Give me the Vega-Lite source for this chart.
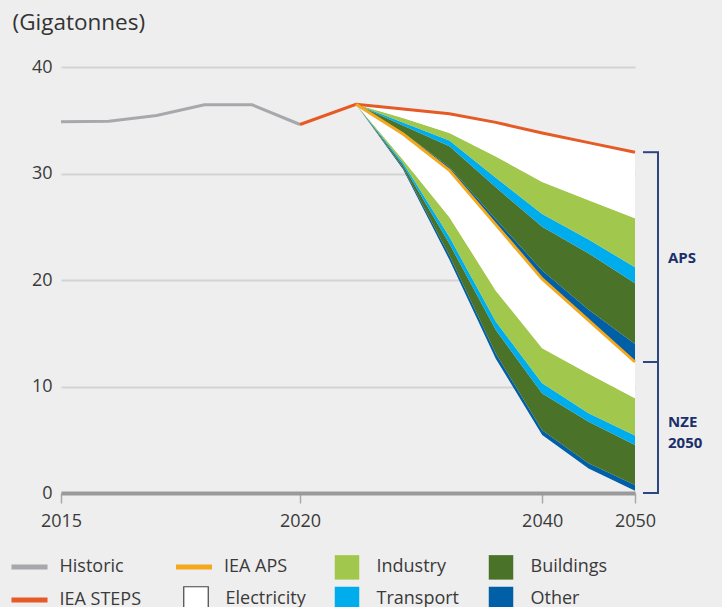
{
  "$schema": "https://vega.github.io/schema/vega-lite/v6.json",
  "width": 574,
  "height": 426,
  "autosize": {"type": "none"},
  "padding": {"left": 61, "top": 67, "right": 87, "bottom": 114},
  "background": "#eeeeee",
  "config": {
    "view": {"stroke": null},
    "font": "Open Sans",
    "axis": {"labelFont": "Open Sans", "titleFont": "Open Sans", "labelColor": "#3a3a3a", "titleColor": "#3a3a3a"},
    "legend": {"labelFont": "Open Sans"}
  },
  "datasets": {
    "bands": [
      {"year": 2022, "scen": "NZE", "series": "Other", "lo": 36.5, "hi": 36.5},
      {"year": 2025, "scen": "NZE", "series": "Other", "lo": 30.4, "hi": 30.55},
      {"year": 2030, "scen": "NZE", "series": "Other", "lo": 21.9, "hi": 22.3},
      {"year": 2035, "scen": "NZE", "series": "Other", "lo": 12.6, "hi": 13.1},
      {"year": 2040, "scen": "NZE", "series": "Other", "lo": 5.45, "hi": 5.9},
      {"year": 2045, "scen": "NZE", "series": "Other", "lo": 2.3, "hi": 2.8},
      {"year": 2050, "scen": "NZE", "series": "Other", "lo": 0.2, "hi": 0.75},
      {"year": 2022, "scen": "NZE", "series": "Buildings", "lo": 36.5, "hi": 36.5},
      {"year": 2025, "scen": "NZE", "series": "Buildings", "lo": 30.55, "hi": 30.8},
      {"year": 2030, "scen": "NZE", "series": "Buildings", "lo": 22.3, "hi": 23.4},
      {"year": 2035, "scen": "NZE", "series": "Buildings", "lo": 13.1, "hi": 15.3},
      {"year": 2040, "scen": "NZE", "series": "Buildings", "lo": 5.9, "hi": 9.35},
      {"year": 2045, "scen": "NZE", "series": "Buildings", "lo": 2.8, "hi": 6.7},
      {"year": 2050, "scen": "NZE", "series": "Buildings", "lo": 0.75, "hi": 4.5},
      {"year": 2022, "scen": "NZE", "series": "Transport", "lo": 36.5, "hi": 36.5},
      {"year": 2025, "scen": "NZE", "series": "Transport", "lo": 30.8, "hi": 31.0},
      {"year": 2030, "scen": "NZE", "series": "Transport", "lo": 23.4, "hi": 24.05},
      {"year": 2035, "scen": "NZE", "series": "Transport", "lo": 15.3, "hi": 16.1},
      {"year": 2040, "scen": "NZE", "series": "Transport", "lo": 9.35, "hi": 10.3},
      {"year": 2045, "scen": "NZE", "series": "Transport", "lo": 6.7, "hi": 7.5},
      {"year": 2050, "scen": "NZE", "series": "Transport", "lo": 4.5, "hi": 5.4},
      {"year": 2022, "scen": "NZE", "series": "Industry", "lo": 36.5, "hi": 36.5},
      {"year": 2025, "scen": "NZE", "series": "Industry", "lo": 31.0, "hi": 31.3},
      {"year": 2030, "scen": "NZE", "series": "Industry", "lo": 24.05, "hi": 25.9},
      {"year": 2035, "scen": "NZE", "series": "Industry", "lo": 16.1, "hi": 19.0},
      {"year": 2040, "scen": "NZE", "series": "Industry", "lo": 10.3, "hi": 13.6},
      {"year": 2045, "scen": "NZE", "series": "Industry", "lo": 7.5, "hi": 11.2},
      {"year": 2050, "scen": "NZE", "series": "Industry", "lo": 5.4, "hi": 8.9},
      {"year": 2022, "scen": "NZE", "series": "Electricity", "lo": 36.5, "hi": 36.5},
      {"year": 2025, "scen": "NZE", "series": "Electricity", "lo": 31.3, "hi": 33.7},
      {"year": 2030, "scen": "NZE", "series": "Electricity", "lo": 25.9, "hi": 30.3},
      {"year": 2035, "scen": "NZE", "series": "Electricity", "lo": 19.0, "hi": 25.2},
      {"year": 2040, "scen": "NZE", "series": "Electricity", "lo": 13.6, "hi": 20.1},
      {"year": 2045, "scen": "NZE", "series": "Electricity", "lo": 11.2, "hi": 16.2},
      {"year": 2050, "scen": "NZE", "series": "Electricity", "lo": 8.9, "hi": 12.3},
      {"year": 2022, "scen": "APS", "series": "Other", "lo": 36.5, "hi": 36.5},
      {"year": 2025, "scen": "APS", "series": "Other", "lo": 33.7, "hi": 33.85},
      {"year": 2030, "scen": "APS", "series": "Other", "lo": 30.3, "hi": 30.6},
      {"year": 2035, "scen": "APS", "series": "Other", "lo": 25.2, "hi": 25.7},
      {"year": 2040, "scen": "APS", "series": "Other", "lo": 20.1, "hi": 20.9},
      {"year": 2045, "scen": "APS", "series": "Other", "lo": 16.2, "hi": 17.2},
      {"year": 2050, "scen": "APS", "series": "Other", "lo": 12.3, "hi": 14.0},
      {"year": 2022, "scen": "APS", "series": "Buildings", "lo": 36.5, "hi": 36.5},
      {"year": 2025, "scen": "APS", "series": "Buildings", "lo": 33.85, "hi": 34.5},
      {"year": 2030, "scen": "APS", "series": "Buildings", "lo": 30.6, "hi": 32.55},
      {"year": 2035, "scen": "APS", "series": "Buildings", "lo": 25.7, "hi": 28.7},
      {"year": 2040, "scen": "APS", "series": "Buildings", "lo": 20.9, "hi": 25.0},
      {"year": 2045, "scen": "APS", "series": "Buildings", "lo": 17.2, "hi": 22.5},
      {"year": 2050, "scen": "APS", "series": "Buildings", "lo": 14.0, "hi": 19.7},
      {"year": 2022, "scen": "APS", "series": "Transport", "lo": 36.5, "hi": 36.5},
      {"year": 2025, "scen": "APS", "series": "Transport", "lo": 34.5, "hi": 34.8},
      {"year": 2030, "scen": "APS", "series": "Transport", "lo": 32.55, "hi": 33.1},
      {"year": 2035, "scen": "APS", "series": "Transport", "lo": 28.7, "hi": 29.6},
      {"year": 2040, "scen": "APS", "series": "Transport", "lo": 25.0, "hi": 26.2},
      {"year": 2045, "scen": "APS", "series": "Transport", "lo": 22.5, "hi": 23.8},
      {"year": 2050, "scen": "APS", "series": "Transport", "lo": 19.7, "hi": 21.2},
      {"year": 2022, "scen": "APS", "series": "Industry", "lo": 36.5, "hi": 36.5},
      {"year": 2025, "scen": "APS", "series": "Industry", "lo": 34.8, "hi": 35.2},
      {"year": 2030, "scen": "APS", "series": "Industry", "lo": 33.1, "hi": 33.8},
      {"year": 2035, "scen": "APS", "series": "Industry", "lo": 29.6, "hi": 31.6},
      {"year": 2040, "scen": "APS", "series": "Industry", "lo": 26.2, "hi": 29.2},
      {"year": 2045, "scen": "APS", "series": "Industry", "lo": 23.8, "hi": 27.5},
      {"year": 2050, "scen": "APS", "series": "Industry", "lo": 21.2, "hi": 25.8},
      {"year": 2022, "scen": "APS", "series": "Electricity", "lo": 36.5, "hi": 36.5},
      {"year": 2025, "scen": "APS", "series": "Electricity", "lo": 35.2, "hi": 36.05},
      {"year": 2030, "scen": "APS", "series": "Electricity", "lo": 33.8, "hi": 35.6},
      {"year": 2035, "scen": "APS", "series": "Electricity", "lo": 31.6, "hi": 34.8},
      {"year": 2040, "scen": "APS", "series": "Electricity", "lo": 29.2, "hi": 33.8},
      {"year": 2045, "scen": "APS", "series": "Electricity", "lo": 27.5, "hi": 32.9},
      {"year": 2050, "scen": "APS", "series": "Electricity", "lo": 25.8, "hi": 32.0}
    ],
    "lines": [
      {"year": 2015, "series": "Historic", "value": 34.85},
      {"year": 2016, "series": "Historic", "value": 34.9},
      {"year": 2017, "series": "Historic", "value": 35.45},
      {"year": 2018, "series": "Historic", "value": 36.45},
      {"year": 2019, "series": "Historic", "value": 36.45},
      {"year": 2020, "series": "Historic", "value": 34.6},
      {"year": 2020, "series": "IEA STEPS", "value": 34.6},
      {"year": 2022, "series": "IEA STEPS", "value": 36.5},
      {"year": 2025, "series": "IEA STEPS", "value": 36.05},
      {"year": 2030, "series": "IEA STEPS", "value": 35.6},
      {"year": 2035, "series": "IEA STEPS", "value": 34.8},
      {"year": 2040, "series": "IEA STEPS", "value": 33.8},
      {"year": 2045, "series": "IEA STEPS", "value": 32.9},
      {"year": 2050, "series": "IEA STEPS", "value": 32.0},
      {"year": 2022, "series": "IEA APS", "value": 36.5},
      {"year": 2025, "series": "IEA APS", "value": 33.7},
      {"year": 2030, "series": "IEA APS", "value": 30.3},
      {"year": 2035, "series": "IEA APS", "value": 25.2},
      {"year": 2040, "series": "IEA APS", "value": 20.1},
      {"year": 2045, "series": "IEA APS", "value": 16.2},
      {"year": 2050, "series": "IEA APS", "value": 12.3}
    ],
    "brackets": [
      {"year": 2050, "label": "APS", "lo": 12.3, "hi": 32.0, "mid": 22.1},
      {"year": 2050, "label": "NZE\n2050", "lo": 0, "hi": 12.3, "mid": 6.7}
    ]
  },
  "layer": [
    {
      "encoding": {
        "x": {
          "field": "year", "type": "quantitative",
          "scale": {"domain": [2015, 2020, 2022, 2025, 2050], "range": [0, 239, 295, 342, 574], "zero": false, "nice": false},
          "axis": {
            "title": null, "values": [2015, 2020, 2040, 2050], "format": "d", "labelFlush": false,
            "grid": false, "domainColor": "#9a9a9c", "domainWidth": 4,
            "tickColor": "#a8a8a8", "tickWidth": 1.5, "tickSize": 10,
            "labelFontSize": 18, "labelPadding": 9, "labelColor": "#3a3a3a"
          }
        }
      },
      "layer": [
        {
          "data": {"name": "bands"},
          "mark": {"type": "area", "opacity": 1},
          "encoding": {
            "y": {
              "field": "lo", "type": "quantitative",
              "scale": {"domain": [0, 40], "nice": false, "zero": true},
              "axis": {
                "title": "(Gigatonnes)", "titleAngle": 0, "titleAlign": "left", "titleBaseline": "middle",
                "titleX": -49, "titleY": -45, "titleFontSize": 22.5, "titleFontWeight": "normal", "titleColor": "#333333",
                "values": [0, 10, 20, 30, 40], "grid": true, "gridColor": "#d3d3d3", "gridWidth": 2,
                "domain": false, "ticks": false, "labelFontSize": 18, "labelPadding": 9, "labelColor": "#3a3a3a"
              }
            },
            "y2": {"field": "hi"},
            "detail": {"field": "scen", "type": "nominal"},
            "fill": {
              "field": "series", "type": "nominal",
              "scale": {
                "domain": ["blank", "Industry", "Buildings", "Electricity", "Transport", "Other"],
                "range": ["#eeeeee", "#a1c84c", "#4a7229", "#ffffff", "#00adec", "#005fa6"]
              },
              "legend": {
                "title": null, "orient": "none", "legendX": 126, "legendY": 491,
                "direction": "horizontal", "columns": 3, "columnPadding": 28, "rowPadding": 4,
                "symbolSize": 600, "symbolType": "square", "labelFontSize": 18, "labelColor": "#3a3a3a", "labelOffset": 20.5,
                "labelLimit": 200,
                "labelExpr": "datum.label === 'blank' ? '' : datum.label",
                "encoding": {
                  "symbols": {
                    "stroke": {"value": "#444444"},
                    "strokeWidth": {"value": {"expr": "datum.value === 'Electricity' ? 1.2 : 0"}},
                    "opacity": {"value": 1}
                  }
                }
              }
            }
          }
        },
        {
          "data": {"name": "lines"},
          "mark": {"type": "line", "strokeWidth": 3},
          "encoding": {
            "y": {"field": "value", "type": "quantitative"},
            "stroke": {
              "field": "series", "type": "nominal",
              "scale": {
                "domain": ["Historic", "IEA APS", "IEA STEPS"],
                "range": ["#a7a8ab", "#f4a81d", "#e55a25"]
              },
              "legend": {
                "title": null, "orient": "none", "legendX": -52.5, "legendY": 479,
                "direction": "horizontal", "columns": 2, "columnPadding": 23.5, "rowPadding": 2,
                "symbolSize": 1300, "symbolType": "stroke", "symbolStrokeWidth": 5,
                "labelFontSize": 18, "labelColor": "#3a3a3a", "labelOffset": 9, "labelLimit": 200
              }
            }
          }
        }
      ]
    },
    {
      "data": {"name": "brackets"},
      "mark": {"type": "rule", "xOffset": 23, "color": "#2c4683", "strokeWidth": 2},
      "encoding": {
        "x": {"field": "year", "type": "quantitative"},
        "y": {"field": "lo", "type": "quantitative"},
        "y2": {"field": "hi"}
      }
    },
    {
      "data": {"name": "brackets"},
      "mark": {"type": "rule", "xOffset": 8, "x2Offset": 24, "color": "#2c4683", "strokeWidth": 2},
      "encoding": {
        "x": {"field": "year", "type": "quantitative"},
        "x2": {"field": "year"},
        "y": {"field": "lo", "type": "quantitative"}
      }
    },
    {
      "data": {"name": "brackets"},
      "mark": {"type": "rule", "xOffset": 8, "x2Offset": 24, "color": "#2c4683", "strokeWidth": 2},
      "encoding": {
        "x": {"field": "year", "type": "quantitative"},
        "x2": {"field": "year"},
        "y": {"field": "hi", "type": "quantitative"}
      }
    },
    {
      "data": {"name": "brackets"},
      "mark": {"type": "text", "xOffset": 33, "align": "left", "baseline": "middle", "fontWeight": "bold", "fontSize": 15, "color": "#1c2f6b", "lineBreak": "\n", "lineHeight": 21, "font": "Open Sans"},
      "encoding": {
        "x": {"field": "year", "type": "quantitative"},
        "y": {"field": "mid", "type": "quantitative"},
        "text": {"field": "label"}
      }
    }
  ]
}
